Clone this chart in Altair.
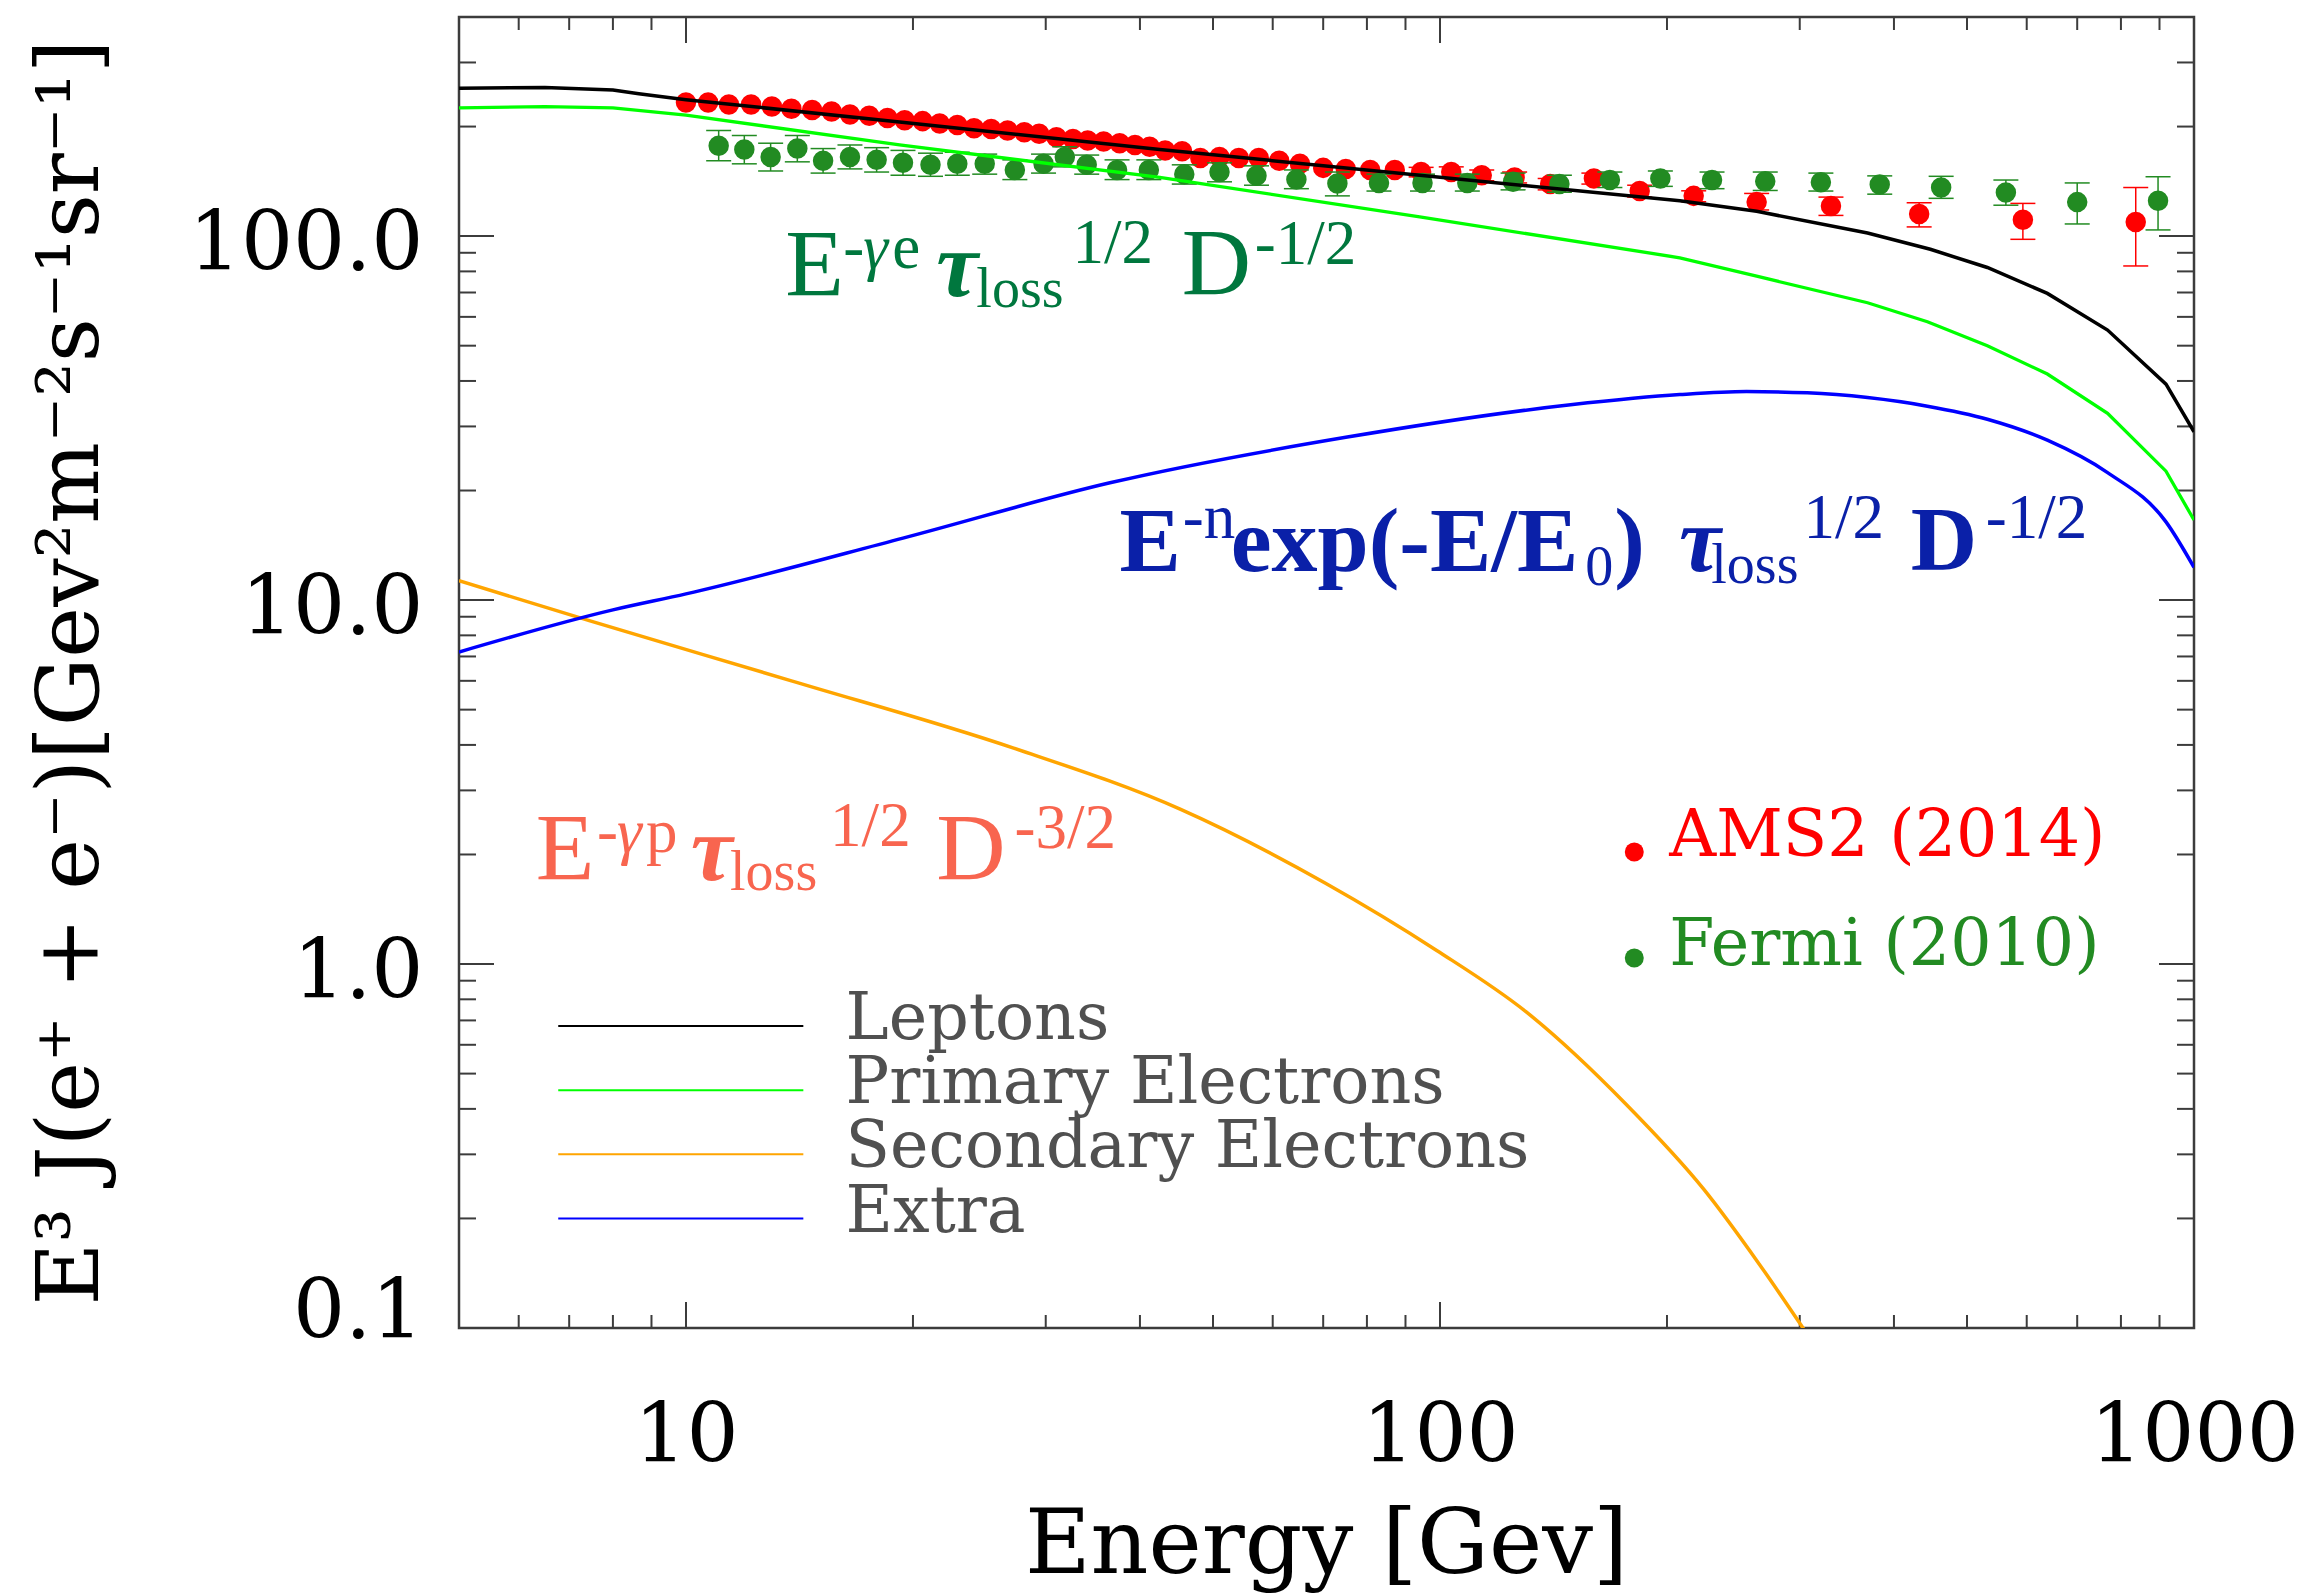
import altair as alt
import pandas as pd

# ---------------- model curves: E [GeV] and E^3 J ----------------
lep_E = [5, 6.5, 8, 8.66, 10, 19.2, 42.5, 94, 208, 263, 369, 447, 532, 639, 768, 918, 1000]
lep_J = [255, 256, 252, 246, 237, 206, 173, 147, 125, 117, 102, 92, 82, 69.6, 55.2, 39.2, 29.0]

pri_E = [5, 6.5, 8, 10, 19.2, 42.5, 94, 208, 263, 369, 443, 532, 639, 768, 918, 1000]
pri_J = [225, 227, 225, 215, 178, 145, 113, 87.2, 77.6, 65.6, 58.2, 50.0, 41.8, 32.6, 22.6, 16.6]

sec_E = [5, 7.48, 13.8, 27.2, 45.3, 70.4, 99, 130, 176.5, 224, 265, 304]
sec_J = [11.3, 8.75, 6.0, 3.92, 2.66, 1.67, 1.09, 0.74, 0.412, 0.24, 0.150, 0.099]

ext_E = [5, 8, 10, 19.4, 36.5, 75, 149, 208, 255, 307, 369, 443, 532, 639, 768, 918, 1000]
ext_J = [7.2, 9.4, 10.4, 14.8, 21.0, 28.0, 34.4, 36.7, 37.4, 37.1, 36.0, 34.1, 31.4, 27.5, 22.4, 16.4, 12.3]

# ---------------- measurements ----------------
ams_E = [10.0, 10.7, 11.4, 12.2, 13.0, 13.8, 14.7, 15.6, 16.5, 17.5, 18.5, 19.5, 20.6, 21.7, 22.9,
         24.1, 25.4, 26.7, 28.1, 29.4, 31.0, 32.6, 34.1, 35.8, 37.6, 39.4, 41.2, 43.2, 45.5, 48.1,
         51.0, 54.1, 57.5, 61.2, 65.2, 70.0, 75.0, 80.8, 87.1, 94.4, 103.5, 113.6, 125.6, 140, 160,
         184, 217, 263, 330, 432, 593, 837]
ams_J = [233, 233, 230, 230, 227, 224, 222, 220, 216, 214, 211, 208, 207, 204, 202,
         198, 197, 195, 193, 191, 187, 185, 183, 182, 180, 178, 176, 172, 171, 164,
         165, 164, 164, 161, 158, 154, 153, 152, 152, 150, 150, 147, 145, 139, 144,
         133, 129, 124, 121, 115, 111, 109.4]
ams_err_E = [94.4, 103.5, 113.6, 125.6, 140, 160, 184, 217, 263, 330, 432, 593, 837]
ams_lo = [145.5, 145, 142, 140, 134, 139, 128, 124.3, 118, 114, 106, 98, 82.8]
ams_hi = [154.5, 155, 152, 150, 144, 149, 138, 133.2, 131, 128, 123.5, 123, 136]

fermi_E = [11.05, 11.95, 12.95, 14.05, 15.2, 16.5, 17.9, 19.4, 21.1, 22.9, 24.9, 27.3, 29.8, 31.8,
           34.0, 37.3, 41.1, 45.8, 51.0, 57.1, 64.5, 73.1, 83.0, 94.8, 108.7, 125, 144, 168, 196,
           229.5, 270, 320, 383, 462, 563, 700, 896]
fermi_J = [177, 173, 165, 174, 161, 165, 162, 159, 157, 158, 158, 152, 158, 165,
           157, 152, 152, 148, 150, 146.6, 143, 139.6, 140, 140, 140, 141, 139, 142.6, 144,
           142.6, 141.6, 140.7, 138.6, 136, 131.8, 124, 125]
fermi_lo = [161, 158, 151, 160, 149, 153, 150, 147, 146, 147, 148, 143, 149, 155,
            148, 143, 143, 139, 141, 138, 135, 129, 133, 133, 133, 134, 132, 136, 137,
            135, 133.5, 133, 130.4, 127, 121.6, 108, 104]
fermi_hi = [195, 189, 180, 189, 174, 178, 175, 172, 169, 170, 168, 162, 168, 176,
            167, 162, 162, 157, 159, 156, 152, 150, 148, 148, 148, 149, 147, 150, 151,
            150, 150, 149, 146.4, 146, 142.6, 140, 145.6]

# ---------------- axis ticks ----------------
x_major = [10, 100, 1000]
x_minor = [5, 6, 7, 8, 9, 20, 30, 40, 50, 60, 70, 80, 90, 200, 300, 400, 500, 600, 700, 800, 900]
y_major = [0.1, 1, 10, 100]
y_minor = [0.2, 0.3, 0.4, 0.5, 0.6, 0.7, 0.8, 0.9, 2, 3, 4, 5, 6, 7, 8, 9,
           20, 30, 40, 50, 60, 70, 80, 90, 200, 300]

# ---------------- legends / annotations (anchors in data space) ----------------
line_names = ["Leptons", "Primary Electrons", "Secondary Electrons", "Extra"]
line_colors = ["black", "#00ff00", "#ffa500", "#0000ff"]
leg_line_E = [6.77, 14.31]
leg_line_J = [0.676, 0.450, 0.300, 0.200]
leg_text_E = 16.28
leg_text_J = [0.622, 0.4144, 0.2763, 0.1839]

pt_names = ["AMS2 (2014)", "Fermi (2010)"]
pt_colors = ["#ff0000", "#228b22"]
pt_dot_E = 181.0
pt_dot_J = [2.031, 1.039]
pt_text_E = 201.4
pt_text_J = [1.98, 0.9937]

# formula pieces: (text, E, J, style)
green_formula = [("E", 13.54, 68.4, "main"), ("-", 16.16, 81.7, "sup"),
                 ("γ", 17.18, 81.7, "supi"), ("e", 18.78, 81.7, "sup"),
                 ("τ", 21.48, 68.4, "tau"), ("loss", 24.27, 63.9, "sub"),
                 ("1/2", 32.55, 84.3, "sup"), ("D", 45.44, 68.9, "main"),
                 ("-1/2", 56.80, 83.8, "sup")]
blue_formula = [("E", 37.58, 12.02, "mainb"), ("-n", 45.58, 14.80, "sup"),
                ("exp(-E/E", 52.78, 12.02, "mainb"), ("0", 155.8, 11.0, "sub"),
                (")", 170.2, 12.02, "mainb"), ("τ", 207.5, 12.02, "tau"),
                ("loss", 229.0, 11.13, "sub"), ("1/2", 303.4, 14.80, "sup"),
                ("D", 421.0, 12.09, "mainb"), ("-1/2", 529.6, 14.80, "sup")]
salmon_formula = [("E", 6.32, 1.70, "main"), ("-", 7.62, 2.03, "sup"),
                  ("γ", 8.10, 2.03, "supi"), ("p", 8.85, 2.03, "sup"),
                  ("τ", 10.15, 1.70, "tau"), ("loss", 11.44, 1.597, "sub"),
                  ("1/2", 15.53, 2.11, "sup"), ("D", 21.48, 1.70, "main"),
                  ("-3/2", 27.27, 2.08, "sup")]

# ---------------- chart ----------------
W, H = 1735, 1311
TICK = "#3c3c3c"
xs = alt.Scale(type="log", domain=[5, 1000], nice=False)
ys = alt.Scale(type="log", domain=[0.1, 400], nice=False)

x_axis = alt.Axis(values=x_major, format="d", title="Energy [Gev]", grid=False, domain=False,
                  ticks=False, labelFont="DejaVu Serif", labelFontSize=82, labelColor="black",
                  labelPadding=68, labelFlush=False, labelOverlap=False, labelLimit=600,
                  titleFont="DejaVu Serif", titleFontSize=90, titleFontWeight="normal",
                  titleColor="black", titleX=867, titleY=244, titleAlign="center",
                  titleBaseline="alphabetic", titleAngle=0, titleLimit=2000)
y_axis = alt.Axis(values=y_major, format=".1f", title="E³ J(e⁺ + e⁻)[Gev²m⁻²s⁻¹sr⁻¹]",
                  grid=False, domain=False, ticks=False, labelFont="DejaVu Serif",
                  labelFontSize=82, labelColor="black", labelPadding=36, labelOffset=8,
                  labelFlush=True, labelFlushOffset=18, labelOverlap=False, labelLimit=600,
                  titleFont="DejaVu Serif", titleFontSize=86, titleFontWeight="normal",
                  titleColor="black", titleX=-362, titleY=655, titleAngle=270,
                  titleAlign="center", titleBaseline="alphabetic", titleLimit=2000)


def X(f):
    return alt.X(f"{f}:Q", scale=xs, axis=x_axis)


def Y(f):
    return alt.Y(f"{f}:Q", scale=ys, axis=y_axis)


layers = []

# inward ticks on all four sides
for vals, ln in ((x_major, 26), (x_minor, 13)):
    d = pd.DataFrame({"v": vals})
    layers.append(alt.Chart(d).mark_rule(color=TICK, strokeWidth=2).encode(
        x=X("v"), y=alt.value(H), y2=alt.value(H - ln)))
    layers.append(alt.Chart(d).mark_rule(color=TICK, strokeWidth=2).encode(
        x=X("v"), y=alt.value(0), y2=alt.value(ln)))
for vals, ln in ((y_major, 35), (y_minor, 17)):
    d = pd.DataFrame({"v": vals})
    layers.append(alt.Chart(d).mark_rule(color=TICK, strokeWidth=2).encode(
        y=Y("v"), x=alt.value(0), x2=alt.value(ln)))
    layers.append(alt.Chart(d).mark_rule(color=TICK, strokeWidth=2).encode(
        y=Y("v"), x=alt.value(W), x2=alt.value(W - ln)))

# AMS2
ams = pd.DataFrame({"E": ams_E, "J": ams_J})
ams_err = pd.DataFrame({"E": ams_err_E, "lo": ams_lo, "hi": ams_hi})
layers.append(alt.Chart(ams_err).mark_rule(color=pt_colors[0], strokeWidth=1.5).encode(
    x=X("E"), y=Y("lo"), y2="hi:Q"))
for f in ("lo", "hi"):
    layers.append(alt.Chart(ams_err).mark_tick(color=pt_colors[0], orient="horizontal", size=25,
                                               thickness=1.5, opacity=1).encode(x=X("E"), y=Y(f)))
layers.append(alt.Chart(ams).mark_circle(size=420, color=pt_colors[0], opacity=1).encode(
    x=X("E"), y=Y("J")))

# Fermi
fer = pd.DataFrame({"E": fermi_E, "J": fermi_J, "lo": fermi_lo, "hi": fermi_hi})
layers.append(alt.Chart(fer).mark_rule(color=pt_colors[1], strokeWidth=1.5).encode(
    x=X("E"), y=Y("lo"), y2="hi:Q"))
for f in ("lo", "hi"):
    layers.append(alt.Chart(fer).mark_tick(color=pt_colors[1], orient="horizontal", size=25,
                                           thickness=1.5, opacity=1).encode(x=X("E"), y=Y(f)))
layers.append(alt.Chart(fer).mark_circle(size=420, color=pt_colors[1], opacity=1).encode(
    x=X("E"), y=Y("J")))

# model lines
for Es, Js, col, sw, interp in ((sec_E, sec_J, line_colors[2], 3.5, "monotone"),
                                (ext_E, ext_J, line_colors[3], 3.5, "monotone"),
                                (pri_E, pri_J, line_colors[1], 3.3, "linear"),
                                (lep_E, lep_J, line_colors[0], 3.5, "linear")):
    d = pd.DataFrame({"E": Es, "J": Js})
    layers.append(alt.Chart(d).mark_line(color=col, strokeWidth=sw, clip=True,
                                         interpolate=interp).encode(x=X("E"), y=Y("J")))

# formula annotations
styles = {
    "main": dict(font="Liberation Serif", fontSize=96),
    "mainb": dict(font="Liberation Serif", fontSize=92, fontWeight="bold"),
    "sup": dict(font="Liberation Serif", fontSize=63),
    "supi": dict(font="Liberation Serif", fontSize=63, fontStyle="italic"),
    "sub": dict(font="Liberation Serif", fontSize=56),
    "tau": dict(font="Liberation Serif", fontSize=94, fontWeight="bold", fontStyle="italic"),
}
for pieces, col in ((green_formula, "#00773e"), (blue_formula, "#0a20a8"),
                    (salmon_formula, "#f8654f")):
    for t, e, j, st in pieces:
        d = pd.DataFrame({"t": [t], "E": [e], "J": [j]})
        layers.append(alt.Chart(d).mark_text(align="left", baseline="alphabetic", color=col,
                                             **styles[st]).encode(
            x=X("E"), y=Y("J"), text="t:N"))

# line legend (bottom left)
for name, col, lj, tj in zip(line_names, line_colors, leg_line_J, leg_text_J):
    d = pd.DataFrame({"E1": [leg_line_E[0]], "E2": [leg_line_E[1]], "J": [lj],
                      "t": [name], "TE": [leg_text_E], "TJ": [tj]})
    layers.append(alt.Chart(d).mark_rule(color=col, strokeWidth=2).encode(
        x=X("E1"), x2="E2:Q", y=Y("J")))
    layers.append(alt.Chart(d).mark_text(align="left", baseline="alphabetic", color="#505050",
                                         font="DejaVu Serif", fontSize=65).encode(
        x=X("TE"), y=Y("TJ"), text="t:N"))

# point legend (right)
for name, col, dj, tj in zip(pt_names, pt_colors, pt_dot_J, pt_text_J):
    d = pd.DataFrame({"DE": [pt_dot_E], "DJ": [dj], "t": [name], "TE": [pt_text_E], "TJ": [tj]})
    layers.append(alt.Chart(d).mark_circle(size=360, color=col, opacity=1).encode(
        x=X("DE"), y=Y("DJ")))
    layers.append(alt.Chart(d).mark_text(align="left", baseline="alphabetic", color=col,
                                         font="DejaVu Serif", fontSize=65).encode(
        x=X("TE"), y=Y("TJ"), text="t:N"))

chart = alt.layer(*layers).properties(
    width=W, height=H,
    autosize=alt.AutoSizeParams(type="none"),
    padding={"left": 459, "top": 17, "right": 2311 - 459 - W, "bottom": 1595 - 17 - H},
    background="white",
).configure_view(stroke="#3c3c3c", strokeWidth=2.5)

chart.save("out.html", embed_options={"renderer": "svg", "actions": False})
